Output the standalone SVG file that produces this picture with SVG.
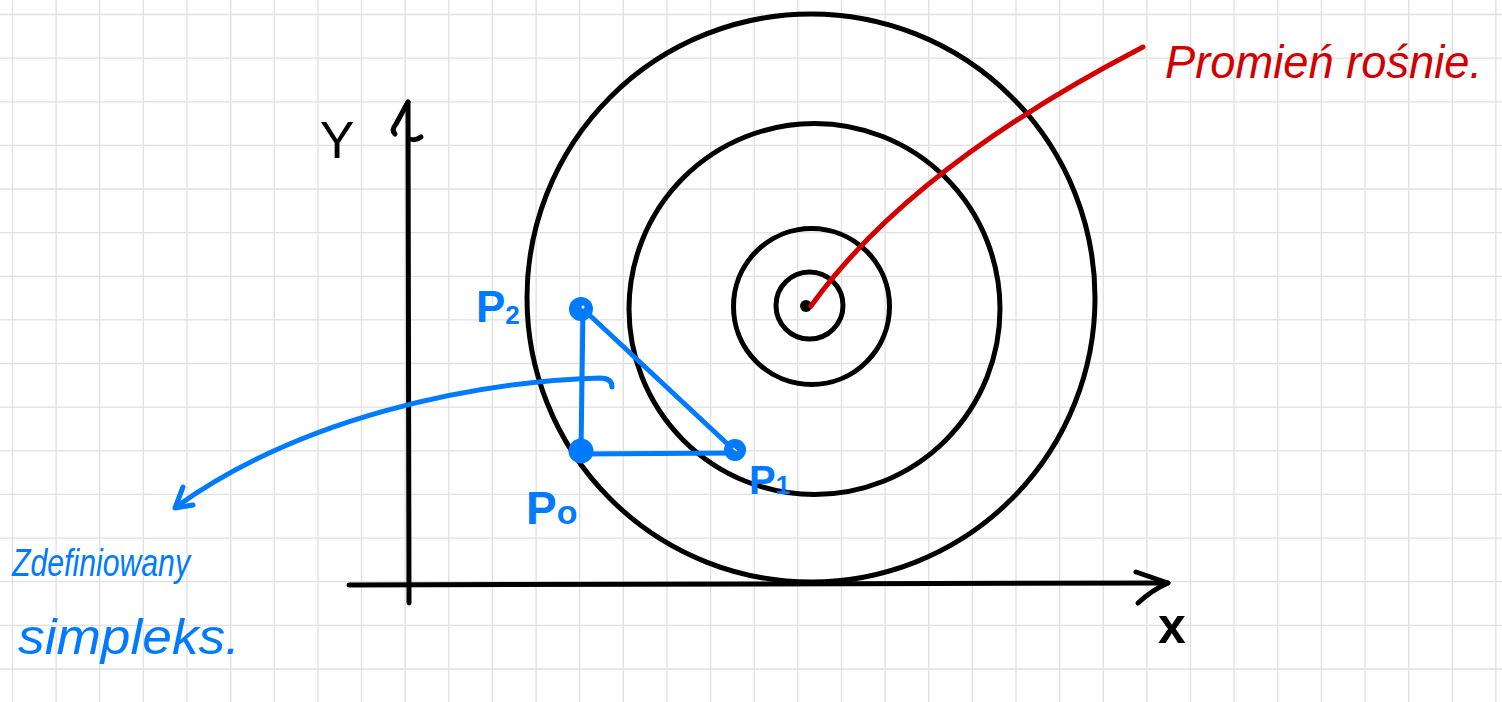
<svg xmlns="http://www.w3.org/2000/svg" width="1502" height="702" viewBox="0 0 1502 702">
  <style>
    .grid { stroke: #e0e0e0; stroke-width: 1.3; fill: none; }
    .ink { stroke: #000; stroke-width: 5; fill: none; stroke-linecap: round; stroke-linejoin: round; }
    .blue { stroke: #007aff; stroke-width: 5; fill: none; stroke-linecap: round; stroke-linejoin: round; }
    .red { stroke: #d20000; stroke-width: 5; fill: none; stroke-linecap: round; stroke-linejoin: round; }
    .hand { font-family: "Liberation Sans", "DejaVu Sans", sans-serif; font-style: italic; }
    .lbl-b { fill: #007aff; font-family: "Liberation Sans", "DejaVu Sans", sans-serif; font-weight: bold; }
    .lbl-k { fill: #000; font-family: "Liberation Sans", "DejaVu Sans", sans-serif; }
  </style>
  <rect x="0" y="0" width="1502" height="702" fill="#ffffff"/>
  <g id="grid">
    <path class="grid" d="M12.5 0V702M56.1 0V702M99.8 0V702M143.4 0V702M187 0V702M230.7 0V702M274.3 0V702M317.9 0V702M361.5 0V702M405.2 0V702M448.8 0V702M492.4 0V702M536.1 0V702M579.7 0V702M623.3 0V702M667 0V702M710.6 0V702M754.2 0V702M797.8 0V702M841.5 0V702M885.1 0V702M928.7 0V702M972.4 0V702M1016 0V702M1059.6 0V702M1103.3 0V702M1146.9 0V702M1190.5 0V702M1234.1 0V702M1277.8 0V702M1321.4 0V702M1365 0V702M1408.7 0V702M1452.3 0V702M1495.9 0V702"/>
    <path class="grid" d="M0 14.5H1502M0 58.1H1502M0 101.8H1502M0 145.4H1502M0 189H1502M0 232.7H1502M0 276.3H1502M0 319.9H1502M0 363.5H1502M0 407.2H1502M0 450.8H1502M0 494.4H1502M0 538.1H1502M0 581.7H1502M0 625.3H1502M0 669H1502"/>
  </g>
  <g id="axes">
    <g id="x-axis">
      <path class="ink" d="M349 585 L1168 583"/>
      <path class="ink" d="M1136 572 L1168 583 Q1152 590 1138 603"/>
      <text class="lbl-k" x="1172" y="643" font-size="50" font-weight="bold" text-anchor="middle">x</text>
    </g>
    <g id="y-axis">
      <path class="ink" d="M409 603 L408 102"/>
      <path class="ink" d="M395 134 Q391 130 396 124 L408 102"/>
      <path class="ink" d="M410 139 Q416 141 421 137"/>
      <text class="lbl-k" x="337" y="158" font-size="52" text-anchor="middle">Y</text>
    </g>
  </g>
  <g id="circles">
    <circle id="circle-4" class="ink" cx="811" cy="298" r="284"/>
    <circle id="circle-3" class="ink" cx="814.5" cy="309" r="185.5"/>
    <circle id="circle-2" class="ink" cx="811.5" cy="306.5" r="78"/>
    <circle id="circle-1" class="ink" cx="809.5" cy="305.5" r="33.5"/>
    <circle id="center" cx="806" cy="306" r="6" fill="#000"/>
  </g>
  <g id="connectors">
    <path id="edge-p2-p0" class="blue" d="M583 308 L581 452"/>
    <path id="edge-p0-p1" class="blue" d="M581 454 L735 453"/>
    <path id="edge-p2-p1" class="blue" d="M583 309 L735 451"/>
    <path id="leader-radius" class="red" d="M811 306 Q910 168 1143 47"/>
    <path id="leader-simplex" class="blue" d="M612 387 Q612 378 600 378 C470 382 300 418 176 507"/>
    <path class="blue" d="M183 487 L175 508 L193 505"/>
  </g>
  <g id="node-p2">
    <circle cx="581" cy="309" r="12" fill="#007aff"/>
    <circle cx="583" cy="307" r="1.5" fill="#ffffff"/>
    <text class="lbl-b" x="476" y="322" font-size="44">P<tspan font-size="26" dy="2">2</tspan></text>
  </g>
  <g id="node-p0">
    <circle cx="581" cy="451" r="12.5" fill="#007aff"/>
    <text class="lbl-b" x="526" y="524" font-size="46">P<tspan font-size="34">o</tspan></text>
  </g>
  <g id="node-p1">
    <circle cx="735" cy="450" r="11" fill="#007aff"/>
    <path d="M733 448 L737 451" stroke="#ffffff" stroke-width="1.2"/>
    <text class="lbl-b" x="749" y="494" font-size="40">P<tspan font-size="26">1</tspan></text>
  </g>
  <g id="note-radius">
    <text class="hand" x="1165" y="78" font-size="46" fill="#d20000" textLength="317" lengthAdjust="spacingAndGlyphs">Promień rośnie.</text>
  </g>
  <g id="note-simplex">
    <text class="hand" x="12" y="576" font-size="38" fill="#007aff" textLength="178" lengthAdjust="spacingAndGlyphs">Zdefiniowany</text>
    <text class="hand" x="18" y="654" font-size="50" fill="#007aff" textLength="222" lengthAdjust="spacingAndGlyphs">simpleks.</text>
  </g>
</svg>
